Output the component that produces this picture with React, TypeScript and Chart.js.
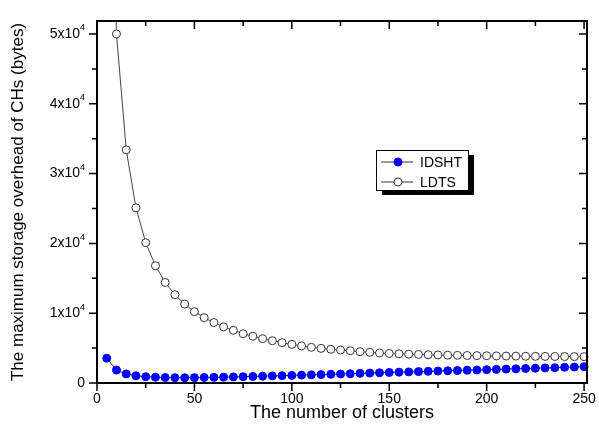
import { useEffect, useRef } from 'react';
import { Chart, registerables } from 'chart.js';

Chart.register(...registerables);

const FONT = '"Liberation Sans", Arial, Helvetica, sans-serif';

const clusterCounts = [
  5, 10, 15, 20, 25, 30, 35, 40, 45, 50,
  55, 60, 65, 70, 75, 80, 85, 90, 95, 100,
  105, 110, 115, 120, 125, 130, 135, 140, 145, 150,
  155, 160, 165, 170, 175, 180, 185, 190, 195, 200,
  205, 210, 215, 220, 225, 230, 235, 240, 245, 250,
];

const idshtOverhead = [
  3550, 1850, 1300, 1030, 900, 830, 790, 770, 760, 770,
  790, 810, 840, 870, 900, 940, 970, 1010, 1050, 1090,
  1130, 1170, 1210, 1250, 1290, 1330, 1380, 1420, 1460, 1510,
  1550, 1590, 1630, 1670, 1710, 1750, 1790, 1830, 1870, 1910,
  1950, 1990, 2030, 2080, 2120, 2160, 2200, 2250, 2290, 2340,
];

const ldtsOverhead = [
  100000, 50000, 33400, 25100, 20100, 16800, 14400, 12650, 11300, 10220,
  9360, 8660, 8040, 7550, 7060, 6700, 6350, 6060, 5780, 5540,
  5310, 5110, 4960, 4830, 4720, 4620, 4490, 4400, 4300, 4230,
  4180, 4130, 4090, 4050, 4020, 3990, 3960, 3940, 3920, 3900,
  3880, 3860, 3850, 3830, 3820, 3810, 3800, 3790, 3780, 3770,
];

const seriesNames = ['IDSHT', 'LDTS'];
const xTickValues = [0, 50, 100, 150, 200, 250];
const yTickValues = [0, 10000, 20000, 30000, 40000, 50000];
const yTickMantissas = ['0', '1', '2', '3', '4', '5'];
const yTickExponent = '4';
const xTitle = 'The number of clusters';
const yTitle = 'The maximum storage overhead of CHs (bytes)';

const framePlugin = {
  id: 'originFrame',
  afterDatasetsDraw(chart: any) {
    const { ctx, chartArea: a, scales } = chart;
    const xs = scales.x;
    const ys = scales.y;
    ctx.save();
    ctx.strokeStyle = '#000';
    ctx.lineWidth = 2;
    ctx.strokeRect(a.left, a.top, a.right - a.left, a.bottom - a.top);

    // ticks (major + minor)
    ctx.lineWidth = 1.5;
    ctx.beginPath();
    const xt: { v: number; major: boolean }[] = [];
    xTickValues.forEach((v, i) => {
      xt.push({ v, major: true });
      if (i < xTickValues.length - 1) xt.push({ v: (v + xTickValues[i + 1]) / 2, major: false });
    });
    xt.forEach(({ v, major }) => {
      const px = xs.getPixelForValue(v);
      const len = major ? 8 : 5;
      ctx.moveTo(px, a.bottom);
      ctx.lineTo(px, a.bottom + len);
      ctx.moveTo(px, a.top);
      ctx.lineTo(px, a.top + len);
    });
    const yt: { v: number; major: boolean }[] = [];
    yTickValues.forEach((v, i) => {
      yt.push({ v, major: true });
      if (i < yTickValues.length - 1) yt.push({ v: (v + yTickValues[i + 1]) / 2, major: false });
    });
    yt.forEach(({ v, major }) => {
      const py = ys.getPixelForValue(v);
      const len = major ? 8 : 5;
      ctx.moveTo(a.left - len, py);
      ctx.lineTo(a.left, py);
      ctx.moveTo(a.right - len, py);
      ctx.lineTo(a.right, py);
    });
    ctx.stroke();

    // y tick labels with superscript exponent
    ctx.fillStyle = '#000';
    ctx.textBaseline = 'middle';
    const labelRight = a.left - 12;
    yTickValues.forEach((v, i) => {
      const py = ys.getPixelForValue(v);
      if (v === 0) {
        ctx.font = `14px ${FONT}`;
        ctx.textAlign = 'right';
        ctx.fillText(yTickMantissas[i], labelRight, py);
      } else {
        ctx.font = `9px ${FONT}`;
        const ew = ctx.measureText(yTickExponent).width;
        ctx.textAlign = 'right';
        ctx.fillText(yTickExponent, labelRight, py - 6);
        ctx.font = `14px ${FONT}`;
        ctx.fillText(`${yTickMantissas[i]}x10`, labelRight - ew, py);
      }
    });

    // legend
    const lx = a.left + 279;
    const ly = a.top + 129;
    const lw = 92;
    const lh = 40;
    ctx.fillStyle = '#000';
    ctx.fillRect(lx + 6, ly + 5, lw, lh);
    ctx.fillStyle = '#fff';
    ctx.fillRect(lx, ly, lw, lh);
    ctx.lineWidth = 1;
    ctx.strokeStyle = '#000';
    ctx.strokeRect(lx + 0.5, ly + 0.5, lw, lh);
    const ds = chart.data.datasets;
    [0, 1].forEach((i) => {
      const ry = ly + 12 + i * 20;
      ctx.strokeStyle = '#333';
      ctx.lineWidth = 1;
      ctx.beginPath();
      ctx.moveTo(lx + 5, ry);
      ctx.lineTo(lx + 37, ry);
      ctx.stroke();
      ctx.beginPath();
      ctx.arc(lx + 22, ry, 4, 0, Math.PI * 2);
      ctx.fillStyle = ds[i].pointBackgroundColor;
      ctx.fill();
      ctx.strokeStyle = ds[i].pointBorderColor;
      ctx.stroke();
      ctx.fillStyle = '#000';
      ctx.font = `14px ${FONT}`;
      ctx.textAlign = 'left';
      ctx.textBaseline = 'middle';
      ctx.fillText(seriesNames[i], lx + 44, ry + 1);
    });
    ctx.restore();
  },
};

export default function App() {
  const ref = useRef<HTMLCanvasElement | null>(null);
  useEffect(() => {
    if (!ref.current) return;
    const chart = new Chart(ref.current, {
      type: 'line',
      data: {
        datasets: [
          {
            label: seriesNames[0],
            data: clusterCounts.map((x, i) => ({ x, y: idshtOverhead[i] })),
            borderColor: '#333',
            borderWidth: 1,
            pointRadius: 4,
            pointBackgroundColor: '#0000ff',
            pointBorderColor: '#0000ff',
            pointBorderWidth: 1,
            tension: 0,
            clip: { left: 6, right: 6, top: 0, bottom: 6 },
          },
          {
            label: seriesNames[1],
            data: clusterCounts.map((x, i) => ({ x, y: ldtsOverhead[i] })),
            borderColor: '#444',
            borderWidth: 1,
            pointRadius: 4,
            pointBackgroundColor: '#ffffff',
            pointBorderColor: '#333',
            pointBorderWidth: 1,
            tension: 0,
            clip: { left: 6, right: 6, top: 0, bottom: 6 },
          },
        ],
      },
      options: {
        animation: false,
        responsive: false,
        events: [],
        layout: { padding: { top: 21, right: 12, left: 0, bottom: 0 } },
        plugins: { legend: { display: false }, tooltip: { enabled: false } },
        scales: {
          x: {
            type: 'linear',
            min: 0,
            max: 251.5,
            afterBuildTicks: (s: any) => { s.ticks = xTickValues.map((v) => ({ value: v })); },
            afterFit: (s: any) => { s.height = 60; },
            grid: { display: false, drawTicks: true, tickLength: 8 },
            border: { display: false },
            ticks: {
              autoSkip: false,
              maxRotation: 0,
              padding: 0,
              color: '#000',
              font: { family: FONT, size: 14 },
            },
            title: {
              display: true,
              text: xTitle,
              color: '#000',
              font: { family: FONT, size: 18 },
              padding: 19,
            },
          },
          y: {
            type: 'linear',
            min: 0,
            max: 51860,
            afterFit: (s: any) => { s.width = 97; },
            grid: { display: false },
            border: { display: false },
            ticks: { display: false, stepSize: 10000 },
            title: {
              display: true,
              text: yTitle,
              color: '#000',
              font: { family: FONT, size: 17 },
              padding: 8,
            },
          },
        },
      },
      plugins: [framePlugin],
    });
    return () => chart.destroy();
  }, []);
  return (
    <div style={{ position: 'fixed', left: 0, top: 0, width: 599, height: 443, background: '#fff' }}>
      <canvas ref={ref} width={599} height={443} style={{ display: 'block' }} />
    </div>
  );
}
